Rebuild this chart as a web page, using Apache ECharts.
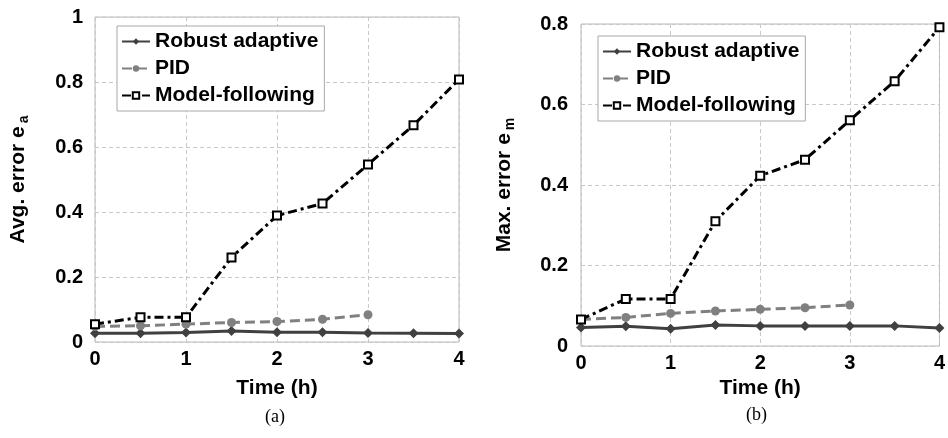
<!DOCTYPE html>
<html>
<head>
<meta charset="utf-8">
<script src="https://cdn.jsdelivr.net/npm/echarts@6/dist/echarts.min.js"></script>
<style>
  html, body {margin: 0; padding: 0; background: #fff;}
  #chart {width: 948px; height: 438px;}
</style>
</head>
<body>
<div id="chart"></div>
<script>
const times = [0, 0.5, 1, 1.5, 2, 2.5, 3, 3.5, 4]
const pidTimes = [0, 0.5, 1, 1.5, 2, 2.5, 3]
const names = ['Robust adaptive', 'PID', 'Model-following']

// (a) average error
const avgRobust = [0.027, 0.027, 0.029, 0.034, 0.030, 0.030, 0.028, 0.027, 0.026]
const avgPid = [0.048, 0.050, 0.055, 0.060, 0.063, 0.070, 0.084]
const avgModel = [0.055, 0.076, 0.076, 0.260, 0.389, 0.426, 0.546, 0.667, 0.808]

// (b) max error
const maxRobust = [0.046, 0.049, 0.043, 0.052, 0.050, 0.050, 0.050, 0.050, 0.045]
const maxPid = [0.066, 0.071, 0.081, 0.087, 0.091, 0.095, 0.102]
const maxModel = [0.066, 0.117, 0.117, 0.310, 0.423, 0.463, 0.561, 0.658, 0.792]

const font = 'Arial, "Liberation Sans", sans-serif'
const zip = (xs, ys) => xs.map((x, i) => [x, ys[i]])

const myEcharts = echarts.init(document.getElementById('chart'))

const xAxisOf = (gridIndex, nameGap) => ({
  type: 'value', gridIndex, min: 0, max: 4, interval: 1,
  name: 'Time (h)', nameLocation: 'middle', nameGap,
  nameTextStyle: {fontFamily: font, fontSize: 21, fontWeight: 'bold', color: '#000'},
  axisLine: {show: false}, axisTick: {show: false},
  axisLabel: {fontFamily: font, fontSize: 20, fontWeight: 'bold', color: '#000', margin: 7},
  splitLine: {lineStyle: {color: '#c8c8c8', type: [4, 3]}}
})

const yAxisOf = (gridIndex, max, text, sub, margin) => ({
  type: 'value', gridIndex, min: 0, max, interval: 0.2,
  name: '{m|' + text + '}{s|' + sub + '}', nameLocation: 'middle', nameGap: 64,
  nameTextStyle: {
    rich: {
      m: {fontFamily: font, fontSize: 21, fontWeight: 'bold', color: '#000'},
      s: {fontFamily: font, fontSize: 14, fontWeight: 'bold', color: '#000', padding: [12, 0, 0, 3]}
    }
  },
  axisLine: {show: false}, axisTick: {show: false},
  axisLabel: {fontFamily: font, fontSize: 20, fontWeight: 'bold', color: '#000', margin},
  splitLine: {lineStyle: {color: '#c8c8c8', type: [4, 3]}}
})

const seriesOf = (i, robust, pid, model) => [
  {
    name: names[0], type: 'line', xAxisIndex: i, yAxisIndex: i,
    data: zip(times, robust),
    symbol: 'diamond', symbolSize: 10,
    lineStyle: {color: '#404040', width: 3},
    itemStyle: {color: '#404040'}
  },
  {
    name: names[1], type: 'line', xAxisIndex: i, yAxisIndex: i,
    data: zip(pidTimes, pid),
    symbol: 'circle', symbolSize: 9,
    lineStyle: {color: '#808080', width: 3, type: [10, 5]},
    itemStyle: {color: '#808080'}
  },
  {
    name: names[2], type: 'line', xAxisIndex: i, yAxisIndex: i,
    data: zip(times, model),
    symbol: 'rect', symbolSize: 8,
    lineStyle: {color: '#000', width: 3, type: [9, 4, 3, 4]},
    itemStyle: {color: '#fff', borderColor: '#000', borderWidth: 2}
  }
]

const legendOf = (left, top) => ({
  orient: 'vertical', left, top, data: names,
  itemWidth: 28, itemHeight: 8, itemGap: 6,
  padding: [5, 6, 5, 4],
  backgroundColor: '#fff', borderColor: '#a8a8a8', borderWidth: 1,
  textStyle: {fontFamily: font, fontSize: 21, fontWeight: 'bold', color: '#000'}
})

myEcharts.setOption({
  animation: false,
  grid: [
    {left: 95, right: 489, top: 17, bottom: 96, show: true, borderColor: '#b8b8b8', borderWidth: 1},
    {left: 581, right: 4, top: 24, bottom: 92, show: true, borderColor: '#b8b8b8', borderWidth: 1}
  ],
  xAxis: [xAxisOf(0, 36), xAxisOf(1, 30)],
  yAxis: [
    yAxisOf(0, 1, 'Avg. error e', 'a', 12),
    yAxisOf(1, 0.8, 'Max. error e', 'm', 13)
  ],
  legend: [legendOf(117, 26), legendOf(598, 36)],
  graphic: [
    {type: 'text', left: 265, top: 408, style: {text: '(a)', font: '18px "Liberation Serif", "Times New Roman", serif', fill: '#000'}},
    {type: 'text', left: 746, top: 406, style: {text: '(b)', font: '18px "Liberation Serif", "Times New Roman", serif', fill: '#000'}}
  ],
  series: [
    ...seriesOf(0, avgRobust, avgPid, avgModel),
    ...seriesOf(1, maxRobust, maxPid, maxModel)
  ]
})
</script>
</body>
</html>
